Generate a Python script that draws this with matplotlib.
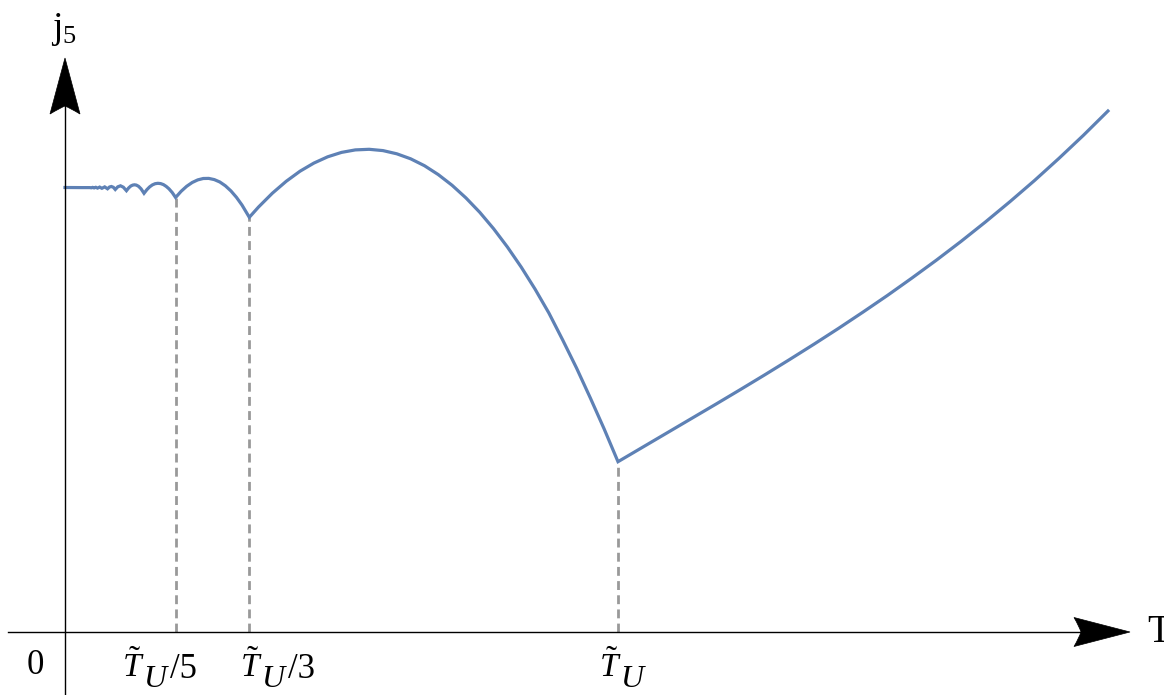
import matplotlib
matplotlib.use("Agg")
import matplotlib.pyplot as plt
from matplotlib.path import Path
from matplotlib.patches import PathPatch

plt.rcParams['mathtext.fontset'] = 'custom'
plt.rcParams['mathtext.rm'] = 'Liberation Serif'
plt.rcParams['mathtext.it'] = 'Liberation Serif:italic'
plt.rcParams['mathtext.bf'] = 'Liberation Serif:bold'
plt.rcParams['font.family'] = ['Liberation Serif', 'DejaVu Serif']

# T in units of T_U, j5 in arbitrary units
t_vals = [0.000, 0.030, 0.045, 0.0476, 0.0500, 0.0526, 0.0557, 0.0588,
          0.0627, 0.0667, 0.0718, 0.0769, 0.0805, 0.0839, 0.0875, 0.0909,
          0.0955, 0.1004, 0.1055, 0.1111, 0.115, 0.119, 0.1225, 0.1257,
          0.129, 0.133, 0.1375, 0.1429, 0.148, 0.153, 0.158, 0.163, 0.168,
          0.173, 0.178, 0.183, 0.188, 0.194, 0.200, 0.21, 0.22, 0.23, 0.24,
          0.25, 0.26, 0.27, 0.28, 0.29, 0.30, 0.31, 0.32, 0.3333, 0.35,
          0.375, 0.40, 0.425, 0.45, 0.475, 0.50, 0.525, 0.55, 0.575, 0.60,
          0.625, 0.65, 0.675, 0.70, 0.725, 0.75, 0.775, 0.80, 0.825, 0.85,
          0.875, 0.90, 0.925, 0.95, 0.975, 1.000, 1.0443, 1.0886, 1.1329,
          1.1772, 1.2215, 1.2658, 1.3101, 1.3544, 1.3987, 1.443, 1.4873,
          1.5316, 1.5759, 1.6203, 1.6646, 1.7089, 1.7532, 1.7975, 1.8418,
          1.886]
j_vals = [4.445, 4.444, 4.444, 4.442, 4.446, 4.441, 4.447, 4.439,
          4.449, 4.437, 4.451, 4.432, 4.450, 4.455, 4.447, 4.425,
          4.452, 4.462, 4.448, 4.413, 4.440, 4.460, 4.469, 4.472,
          4.469, 4.457, 4.432, 4.387, 4.423, 4.451, 4.471, 4.483, 4.487,
          4.484, 4.474, 4.456, 4.432, 4.394, 4.345, 4.407, 4.457, 4.495,
          4.521, 4.535, 4.536, 4.524, 4.500, 4.462, 4.411, 4.347, 4.270,
          4.147, 4.250, 4.388, 4.507, 4.608, 4.689, 4.752, 4.796, 4.821,
          4.827, 4.814, 4.782, 4.732, 4.663, 4.574, 4.467, 4.341, 4.197,
          4.033, 3.850, 3.649, 3.429, 3.190, 2.920, 2.640, 2.340, 2.030,
          1.703, 1.847, 1.991, 2.135, 2.279, 2.425, 2.573, 2.724, 2.878,
          3.036, 3.199, 3.366, 3.540, 3.719, 3.906, 4.101, 4.304, 4.515,
          4.737, 4.968, 5.210]

# cusp positions marked on the T axis
mark_t = [0.2, 1 / 3, 1.0]
mark_j = [4.345, 4.147, 1.703]
mark_suffix = ['/5', '/3', '']
mark_label_left = [122, 240, 599]   # pixel x of label left edge


def px(x, y):
    # figure pixel (top-left origin) -> data
    return (x - 65) / 553, (632 - y) / 100


fig = plt.figure(figsize=(11.64, 6.95), dpi=100)
ax = fig.add_axes([0, 0, 1, 1])
ax.set_xlim(px(0, 0)[0], px(1164, 0)[0])
ax.set_ylim(px(0, 695)[1], px(0, 0)[1])
ax.axis('off')

# axes lines
x0, _ = px(8, 632)
x1, _ = px(1082, 632)
ax.plot([x0, x1], [0, 0], color='black', lw=1.0, zorder=3)
_, yb = px(65, 695)
_, yt = px(65, 106)
ax.plot([0, 0], [yb, yt], color='black', lw=1.0, zorder=3)

# arrow heads
codes = [Path.MOVETO, Path.LINETO, Path.CURVE3, Path.CURVE3,
         Path.CURVE3, Path.CURVE3, Path.CLOSEPOLY]
ya = [px(65, 58), px(80, 114), px(70, 108), px(65, 106), px(60, 108),
      px(50, 114), px(65, 58)]
ax.add_patch(PathPatch(Path(ya, codes), facecolor='black', edgecolor='black',
                       lw=0.5, zorder=4))
xa = [px(1130, 632), px(1074, 646.5), px(1079, 638), px(1081, 632),
      px(1079, 626), px(1074, 617.5), px(1130, 632)]
ax.add_patch(PathPatch(Path(xa, codes), facecolor='black', edgecolor='black',
                       lw=0.5, zorder=4))

# dashed guides
for t, j in zip(mark_t, mark_j):
    ax.plot([t, t], [0, j], color='#999999', lw=2.0, dashes=(3.2, 1.9),
            zorder=1)

ax.plot(t_vals, j_vals, color='#5E81B5', lw=2.3, zorder=2,
        solid_joinstyle='miter')

# tick labels: T~ , U (lowered), suffix
for suf, left in zip(mark_suffix, mark_label_left):
    lx, ly = px(left, 677)
    ax.text(lx, ly, r'$\tilde{T}$', fontsize=24, ha='left', va='baseline')
    ux, uy = px(left + 21, 687)
    ax.text(ux, uy, 'U', fontsize=23, style='italic', ha='left',
            va='baseline')
    if suf:
        sx, sy = px(left + 48, 678)
        ax.text(sx, sy, suf, fontsize=25, ha='left', va='baseline')

lx, ly = px(35, 674)
ax.text(lx, ly, '0', fontsize=25, ha='center', va='baseline')
lx, ly = px(63.5, 38)
ax.text(lx, ly, r'$\mathrm{j}_5$', fontsize=27, ha='center', va='baseline')
lx, ly = px(1147, 632)
ax.text(lx, ly, 'T', fontsize=28, ha='left', va='center')

fig.savefig('out.png', dpi=100)
